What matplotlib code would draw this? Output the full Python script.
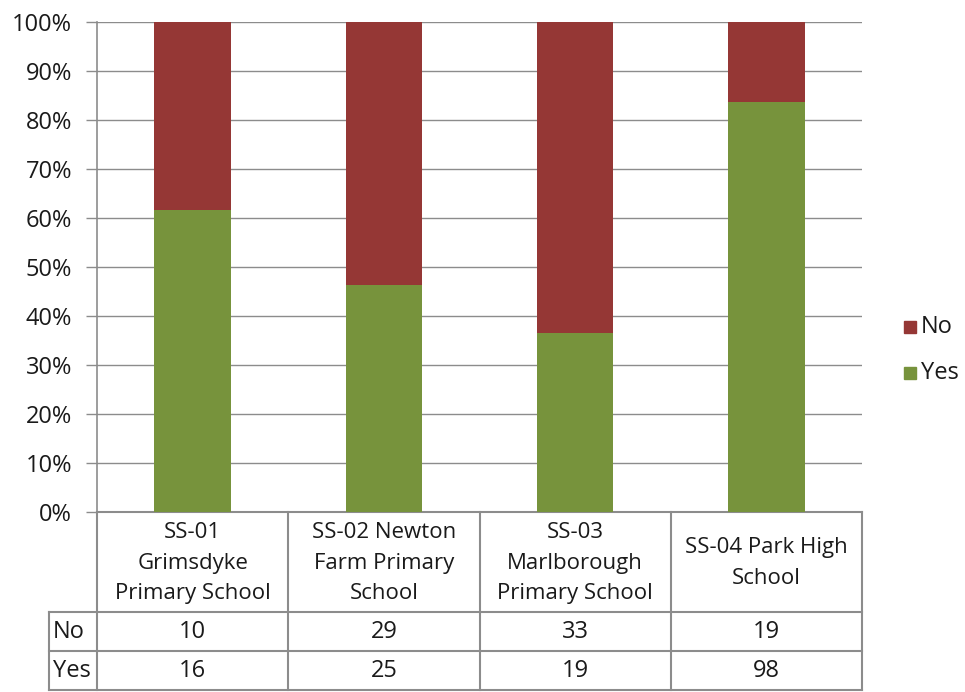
import numpy as np
import matplotlib.pyplot as plt
from matplotlib.ticker import PercentFormatter

schools = ["SS-01\nGrimsdyke\nPrimary School",
           "SS-02 Newton\nFarm Primary\nSchool",
           "SS-03\nMarlborough\nPrimary School",
           "SS-04 Park High\nSchool"]
no_counts = [10, 29, 33, 19]
yes_counts = [16, 25, 19, 98]
series_names = ["No", "Yes"]

RED = "#953735"
GREEN = "#77933C"
GRID = "#8c8c8c"
TXT = "#1a1a1a"
FS = 16


def main():
    plt.rcParams['font.family'] = ['Open Sans', 'DejaVu Sans']
    W, H = 965, 692
    fig = plt.figure(figsize=(W / 100, H / 100), dpi=100)
    x0, x1, ytop, ybot = 97, 862, 22, 512
    ax = fig.add_axes([x0 / W, 1 - ybot / H, (x1 - x0) / W, (ybot - ytop) / H])

    no = np.array(no_counts, float)
    yes = np.array(yes_counts, float)
    tot = no + yes
    yes_pct = yes / tot * 100
    no_pct = no / tot * 100
    x = np.arange(len(schools))

    ax.bar(x, yes_pct, width=0.4, color=GREEN, label="Yes", zorder=3)
    ax.bar(x, no_pct, bottom=yes_pct, width=0.4, color=RED, label="No", zorder=3)

    ax.set_xlim(-0.5, len(schools) - 0.5)
    ax.set_ylim(0, 100)
    ax.set_yticks(np.arange(0, 101, 10))
    ax.yaxis.set_major_formatter(PercentFormatter(decimals=0))
    ax.tick_params(axis='y', length=8, width=1, color=GRID, labelsize=FS + 1,
                   labelcolor=TXT, pad=10)
    ax.set_xticks([])
    ax.grid(axis='y', color=GRID, lw=1, zorder=0)
    for s in ['top', 'right', 'bottom']:
        ax.spines[s].set_visible(False)
    ax.spines['left'].set_color(GRID)
    ax.spines['left'].set_linewidth(1.2)

    # data table below the plot, in axes coordinates
    ph = ybot - ytop
    pw = x1 - x0
    fy = lambda py: (ybot - py) / ph
    fx = lambda px: (px - x0) / pw
    lk = dict(transform=ax.transAxes, color=GRID, lw=1.5, clip_on=False)
    rows = [612, 651, 690]
    ax.plot([0, 1], [0, 0], **lk)
    for r in rows:
        ax.plot([fx(49), 1], [fy(r), fy(r)], **lk)
    ax.plot([fx(49), fx(49)], [fy(612), fy(690)], **lk)
    for i in range(len(schools) + 1):
        ax.plot([i / len(schools)] * 2, [0, fy(690)], **lk)

    for i, name in enumerate(schools):
        cx = (i + 0.5) / len(schools)
        ax.text(cx, fy(563), name, transform=ax.transAxes, ha='center',
                va='center', fontsize=FS, color=TXT, linespacing=1.6)
        ax.text(cx, fy(632), str(no_counts[i]), transform=ax.transAxes,
                ha='center', va='center', fontsize=FS + 1, color=TXT)
        ax.text(cx, fy(671), str(yes_counts[i]), transform=ax.transAxes,
                ha='center', va='center', fontsize=FS + 1, color=TXT)
    ax.text(fx(53), fy(632), series_names[0], transform=ax.transAxes,
            ha='left', va='center', fontsize=FS + 1, color=TXT)
    ax.text(fx(53), fy(671), series_names[1], transform=ax.transAxes,
            ha='left', va='center', fontsize=FS + 1, color=TXT)

    # legend
    for py, lab, col in [(327, "No", RED), (373, "Yes", GREEN)]:
        fig.patches.append(plt.Rectangle((904 / W, 1 - (py + 6) / H), 12 / W, 12 / H,
                                         transform=fig.transFigure, color=col))
        fig.text(921 / W, 1 - py / H, lab, ha='left', va='center',
                 fontsize=FS + 1, color=TXT)

    fig.savefig("out.png", dpi=100, facecolor="white")


if __name__ == "__main__":
    main()
